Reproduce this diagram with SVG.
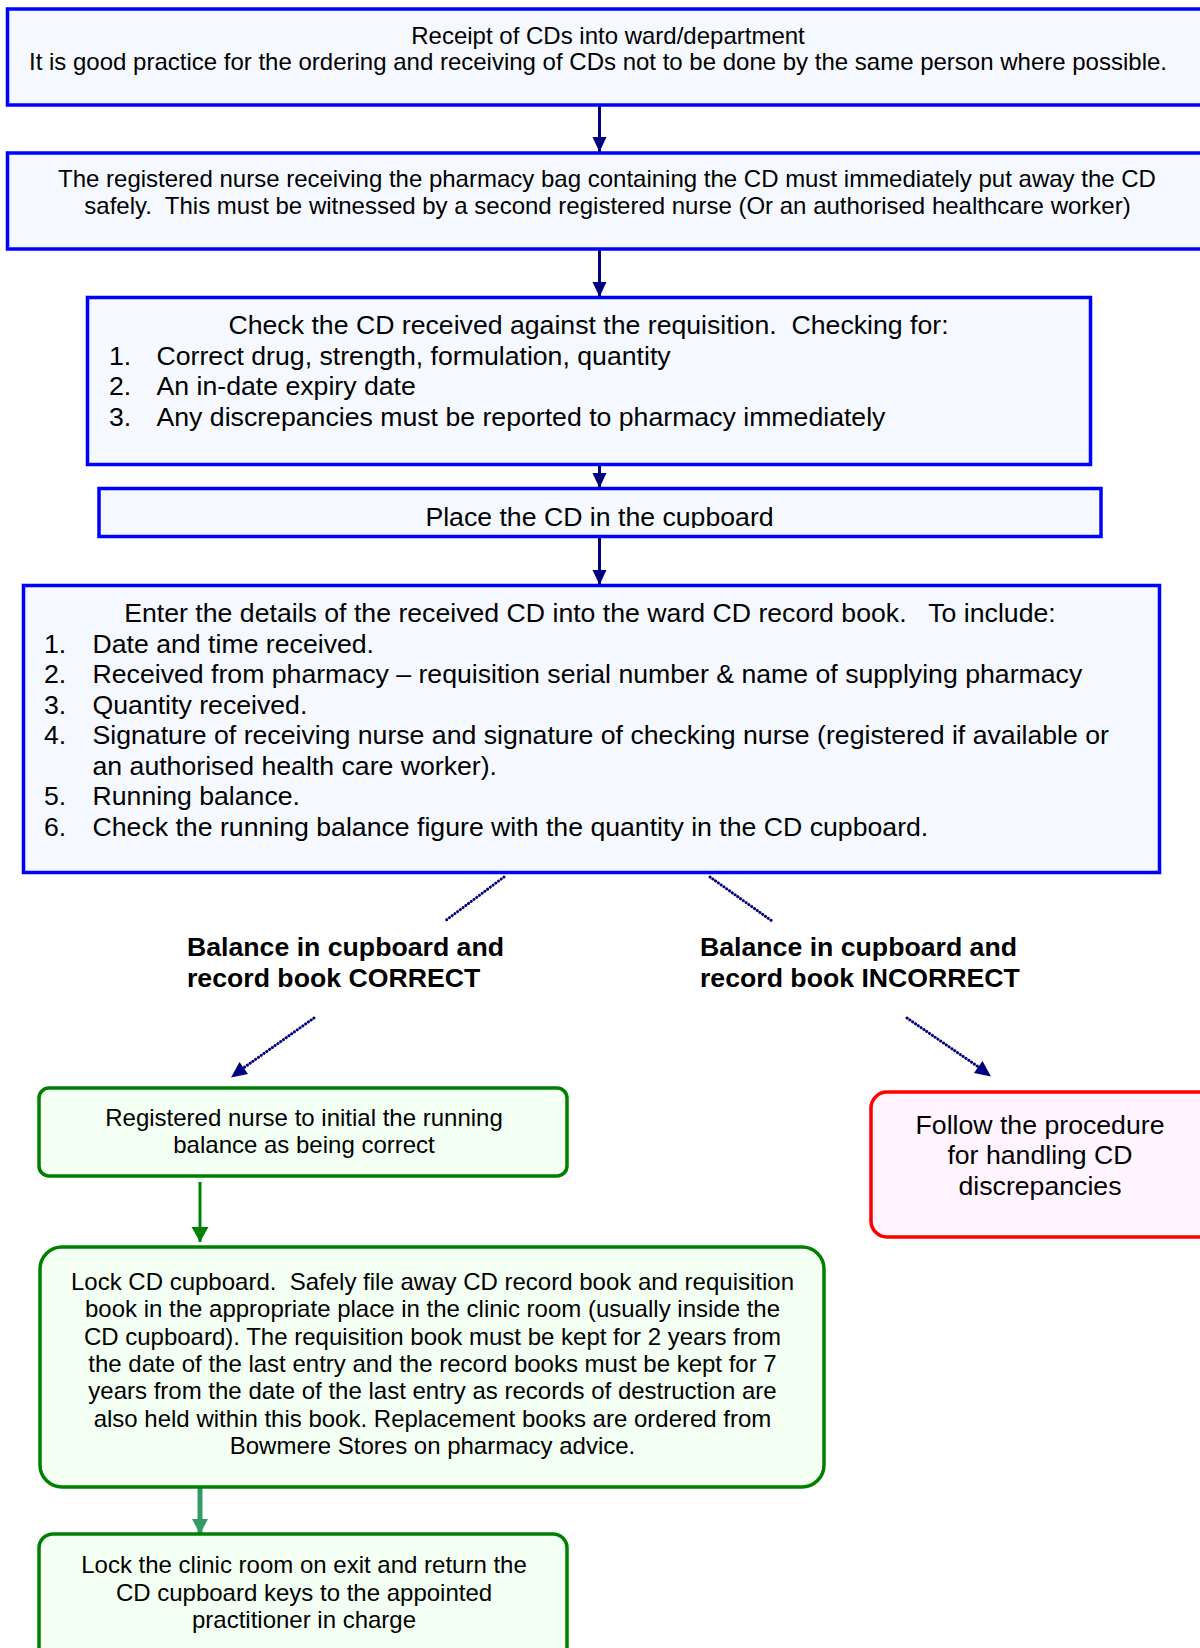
<svg xmlns="http://www.w3.org/2000/svg" width="1200" height="1648" viewBox="0 0 1200 1648">
  <style>
    text { font-family: "Liberation Sans", Arial, sans-serif; fill: #000; }
    .t24 { font-size: 24px; }
    .t27 { font-size: 26.67px; }
    .bold { font-size: 26.67px; font-weight: bold; }
    .mid { text-anchor: middle; }
    .blue { fill: #f5f9ff; stroke: #0000ff; stroke-width: 3.5; }
    .green { fill: #f4fff4; stroke: #008000; stroke-width: 3.5; }
    .red { fill: #fff4ff; stroke: #ff0000; stroke-width: 3.5; }
    .navy { stroke: #000080; stroke-width: 3; fill: none; }
    .dots { stroke: #000080; stroke-width: 3; fill: none; stroke-dasharray: 0.1 3.3; stroke-linecap: round; }
  </style>
  <defs>
    <marker id="headNavy" markerUnits="userSpaceOnUse" markerWidth="16" markerHeight="16" viewBox="0 0 16 16" refX="15" refY="7" orient="auto">
      <path d="M0,0 L15,7 L0,14 z" fill="#000080"/>
    </marker>
    <marker id="headGreen" markerUnits="userSpaceOnUse" markerWidth="17" markerHeight="18" viewBox="0 0 17 18" refX="15" refY="8.5" orient="auto">
      <path d="M0,0 L15,8.5 L0,17 z" fill="#008000"/>
    </marker>
    <marker id="headTeal" markerUnits="userSpaceOnUse" markerWidth="17" markerHeight="18" viewBox="0 0 17 18" refX="15" refY="8" orient="auto">
      <path d="M0,0 L15,8 L0,16 z" fill="#339966"/>
    </marker>
    <clipPath id="placeClip">
      <rect x="99" y="488" width="1002" height="40"/>
    </clipPath>
  </defs>

  <g id="connectors">
    <line class="navy" x1="599.5" y1="106" x2="599.5" y2="152" marker-end="url(#headNavy)"/>
    <line class="navy" x1="599.5" y1="250" x2="599.5" y2="297" marker-end="url(#headNavy)"/>
    <line class="navy" x1="599.5" y1="466" x2="599.5" y2="488" marker-end="url(#headNavy)"/>
    <line class="navy" x1="599.5" y1="537" x2="599.5" y2="585" marker-end="url(#headNavy)"/>
    <line class="dots" x1="504" y1="877" x2="445" y2="921"/>
    <line class="dots" x1="710" y1="877" x2="772" y2="921"/>
    <line class="dots" x1="314" y1="1018" x2="242" y2="1069"/>
    <path d="M231,1077.5 L239.5,1062 L248,1074 z" fill="#000080"/>
    <line class="dots" x1="907" y1="1018" x2="980" y2="1068"/>
    <path d="M991,1076.5 L974,1073 L982.5,1061 z" fill="#000080"/>
    <line x1="200" y1="1182" x2="200" y2="1242" stroke="#008000" stroke-width="3" marker-end="url(#headGreen)"/>
    <line x1="200" y1="1488" x2="200" y2="1534" stroke="#339966" stroke-width="5" marker-end="url(#headTeal)"/>
  </g>

  <g id="receipt">
    <rect class="blue" x="7.5" y="9" width="1210" height="96"/>
    <text class="t24 mid" x="608" y="43.5">Receipt of CDs into ward/department</text>
    <text class="t24 mid" x="598" y="70">It is good practice for the ordering and receiving of CDs not to be done by the same person where possible.</text>
  </g>

  <g id="put-away">
    <rect class="blue" x="7.5" y="153" width="1210" height="96"/>
    <text class="t24 mid" x="607" y="187">The registered nurse receiving the pharmacy bag containing the CD must immediately put away the CD</text>
    <text class="t24 mid" x="607.5" y="214" xml:space="preserve">safely.  This must be witnessed by a second registered nurse (Or an authorised healthcare worker)</text>
  </g>

  <g id="check">
    <rect class="blue" x="87.5" y="297.5" width="1003" height="167"/>
    <text class="t27 mid" x="588.5" y="334" xml:space="preserve">Check the CD received against the requisition.  Checking for:</text>
    <text class="t27" x="109" y="364.5">1.</text>
    <text class="t27" x="156.5" y="364.5">Correct drug, strength, formulation, quantity</text>
    <text class="t27" x="109" y="395">2.</text>
    <text class="t27" x="156.5" y="395">An in-date expiry date</text>
    <text class="t27" x="109" y="425.5">3.</text>
    <text class="t27" x="156.5" y="425.5">Any discrepancies must be reported to pharmacy immediately</text>
  </g>

  <g id="place">
    <rect class="blue" x="99" y="488.5" width="1002" height="48"/>
    <text class="t27 mid" x="599.5" y="526" clip-path="url(#placeClip)">Place the CD in the cupboard</text>
  </g>

  <g id="record">
    <rect class="blue" x="23.5" y="585.5" width="1136" height="287"/>
    <text class="t27 mid" x="590" y="622" xml:space="preserve">Enter the details of the received CD into the ward CD record book.   To include:</text>
    <text class="t27" x="44" y="652.5">1.</text>
    <text class="t27" x="92.5" y="652.5">Date and time received.</text>
    <text class="t27" x="44" y="683">2.</text>
    <text class="t27" x="92.5" y="683">Received from pharmacy – requisition serial number &amp; name of supplying pharmacy</text>
    <text class="t27" x="44" y="713.5">3.</text>
    <text class="t27" x="92.5" y="713.5">Quantity received.</text>
    <text class="t27" x="44" y="744">4.</text>
    <text class="t27" x="92.5" y="744">Signature of receiving nurse and signature of checking nurse (registered if available or</text>
    <text class="t27" x="92.5" y="774.5">an authorised health care worker).</text>
    <text class="t27" x="44" y="805">5.</text>
    <text class="t27" x="92.5" y="805">Running balance.</text>
    <text class="t27" x="44" y="835.5">6.</text>
    <text class="t27" x="92.5" y="835.5">Check the running balance figure with the quantity in the CD cupboard.</text>
  </g>

  <g id="label-correct">
    <text class="bold" x="187" y="955.5">Balance in cupboard and</text>
    <text class="bold" x="187" y="986.5">record book CORRECT</text>
  </g>

  <g id="label-incorrect">
    <text class="bold" x="700" y="955.5">Balance in cupboard and</text>
    <text class="bold" x="700" y="986.5">record book INCORRECT</text>
  </g>

  <g id="initial-balance">
    <rect class="green" x="39" y="1088" width="528" height="88" rx="10"/>
    <text class="t24 mid" x="304" y="1126">Registered nurse to initial the running</text>
    <text class="t24 mid" x="304" y="1153">balance as being correct</text>
  </g>

  <g id="discrepancies">
    <rect class="red" x="871" y="1092" width="360" height="145" rx="16"/>
    <text class="t27 mid" x="1040" y="1133.5">Follow the procedure</text>
    <text class="t27 mid" x="1040" y="1164">for handling CD</text>
    <text class="t27 mid" x="1040" y="1194.5">discrepancies</text>
  </g>

  <g id="lock-cupboard">
    <rect class="green" x="40" y="1247" width="784" height="240" rx="22"/>
    <text class="t24 mid" x="432.5" y="1289.5" xml:space="preserve">Lock CD cupboard.  Safely file away CD record book and requisition</text>
    <text class="t24 mid" x="432.5" y="1317">book in the appropriate place in the clinic room (usually inside the</text>
    <text class="t24 mid" x="432.5" y="1344.5">CD cupboard). The requisition book must be kept for 2 years from</text>
    <text class="t24 mid" x="432.5" y="1371.5">the date of the last entry and the record books must be kept for 7</text>
    <text class="t24 mid" x="432.5" y="1399">years from the date of the last entry as records of destruction are</text>
    <text class="t24 mid" x="432.5" y="1426.5">also held within this book. Replacement books are ordered from</text>
    <text class="t24 mid" x="432.5" y="1454">Bowmere Stores on pharmacy advice.</text>
  </g>

  <g id="lock-room">
    <rect class="green" x="39" y="1534" width="528" height="140" rx="14"/>
    <text class="t24 mid" x="304" y="1573">Lock the clinic room on exit and return the</text>
    <text class="t24 mid" x="304" y="1600.5">CD cupboard keys to the appointed</text>
    <text class="t24 mid" x="304" y="1628">practitioner in charge</text>
  </g>
</svg>
